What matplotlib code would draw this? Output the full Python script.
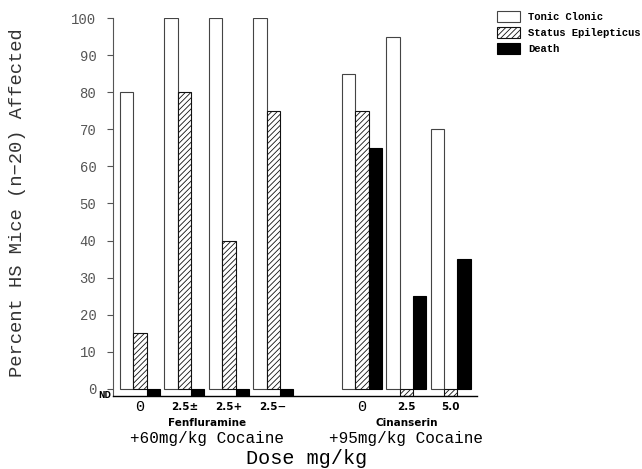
import numpy as np
import matplotlib
matplotlib.use("Agg")
import matplotlib.pyplot as plt
from matplotlib.patches import Rectangle

# ---- data ----
groups = ["Fenfluramine", "Cinanserin"]
group_sub = ["+60mg/kg Cocaine", "+95mg/kg Cocaine"]
dose_labels = ["0", "2.5±", "2.5+", "2.5−", "0", "2.5", "5.0"]
dose_group = [0, 0, 0, 0, 1, 1, 1]
series = ["Tonic Clonic", "Status Epilepticus", "Death"]
ND = np.nan  # not detected
tonic_clonic = [80, 100, 100, 100, 85, 95, 70]
status_epilepticus = [15, 80, 40, 75, 75, ND, ND]
death = [ND, ND, ND, ND, 65, 25, 35]
y_ticks = list(range(0, 101, 10))

ND_LEVEL = -1.9
MONO = "Liberation Mono"

plt.rcParams["hatch.linewidth"] = 0.6
fig = plt.figure(figsize=(6.42, 4.69), dpi=100)
W, H = 642, 469
ax = fig.add_axes([113 / W, 1 - 396 / H, (477 - 113) / W, (396 - 18) / H])

# positions: groups separated by an empty slot
pos = []
p = 0
prev = dose_group[0]
for g in dose_group:
    if g != prev:
        p += 1
        prev = g
    pos.append(p)
    p += 1
pos = np.array(pos, dtype=float)
bw = 0.30

def plot_series(vals, offset, **style):
    vals = np.array(vals, dtype=float)
    nd = np.isnan(vals)
    h = np.where(nd, ND_LEVEL, vals)
    ax.bar(pos + offset, h, width=bw, align="center", **style)

tc_style = dict(facecolor="white", edgecolor="#444444", linewidth=0.8)
se_style = dict(facecolor="white", edgecolor="#111111", linewidth=0.8, hatch="//////")
de_style = dict(facecolor="black", edgecolor="black", linewidth=0.8)

plot_series(tonic_clonic, -bw, **tc_style)
plot_series(status_epilepticus, 0, **se_style)
plot_series(death, bw, **de_style)

ax.set_xlim(-0.61, 7.59)
ax.set_ylim(ND_LEVEL, 100)
ax.spines["top"].set_visible(False)
ax.spines["right"].set_visible(False)
ax.spines["left"].set_bounds(ND_LEVEL, 100)
ax.spines["left"].set_color("#555555")
ax.spines["left"].set_linewidth(0.8)
ax.spines["bottom"].set_linewidth(1.0)
ax.set_yticks(y_ticks)
ax.set_yticklabels([str(t) for t in y_ticks], family=MONO,
                   fontsize=10, color="#555555")
ax.tick_params(axis="y", direction="out", length=4, width=0.8, color="#555555", pad=8)
ax.set_xticks([])

# dose tick labels
for x, lab in zip(pos, dose_labels):
    if lab == "0":
        ax.annotate(lab, (x, 0), xycoords=("data", "axes fraction"),
                    xytext=(0, -3), textcoords="offset points",
                    ha="center", va="top", fontsize=11, family=MONO)
    else:
        ax.annotate(lab, (x, 0), xycoords=("data", "axes fraction"),
                    xytext=(0, -4), textcoords="offset points",
                    ha="center", va="top", fontsize=7.5, family="DejaVu Sans",
                    weight="bold")

# group labels
for gi, (gname, gsub) in enumerate(zip(groups, group_sub)):
    xs = pos[np.array(dose_group) == gi]
    xc = xs.mean()
    ax.annotate(gname, (xc, 0), xycoords=("data", "axes fraction"),
                xytext=(0, -16), textcoords="offset points",
                ha="center", va="top", fontsize=7.5, family="DejaVu Sans",
                weight="bold")
    ax.annotate(gsub, (xc, 0), xycoords=("data", "axes fraction"),
                xytext=(0, -25), textcoords="offset points",
                ha="center", va="top", fontsize=11.5, family=MONO)

# ND label
ax.annotate("ND", (0, ND_LEVEL), xycoords=("axes fraction", "data"),
            xytext=(-1, 0), textcoords="offset points", ha="right", va="center",
            fontsize=5.5, family="DejaVu Sans", weight="bold")

fig.text(307 / W, 1 - 458 / H, "Dose mg/kg", ha="center", va="center",
         fontsize=14.5, family=MONO)
fig.text(18 / W, 1 - 203 / H, "Percent HS Mice (n−20) Affected", rotation=90,
         ha="center", va="center", fontsize=13.5, family=MONO,
         color="#333333")

# legend
for i, (name, st) in enumerate(zip(series, [tc_style, se_style, de_style])):
    yc = 17 + 16 * i
    fig.add_artist(Rectangle((497 / W, 1 - (yc + 5.5) / H), 23 / W, 11 / H,
                             transform=fig.transFigure, **st))
    fig.text(528 / W, 1 - yc / H, name, ha="left", va="center",
             fontsize=7.6, family=MONO, weight="bold")

fig.savefig("out.png", dpi=100)
